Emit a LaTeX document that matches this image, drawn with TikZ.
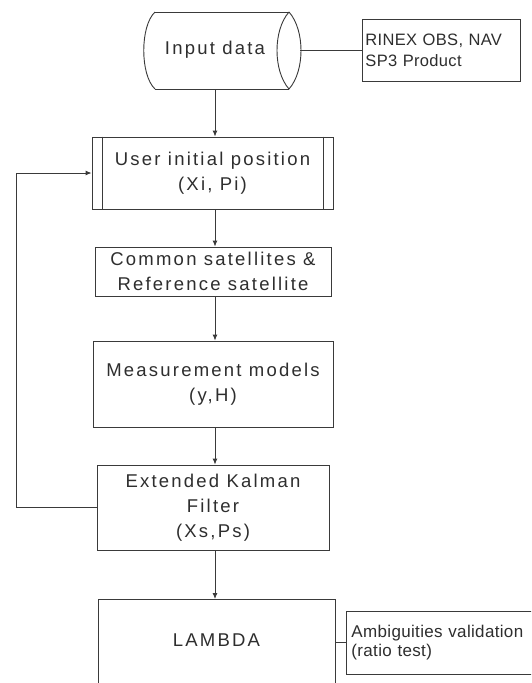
\documentclass[tikz,border=0pt]{standalone}
\usepackage{fontspec}
\setmainfont{Liberation Sans}
\newfontfamily\boxfont{Liberation Sans}[LetterSpace=12]
\newfontfamily\notefont{Liberation Sans}[LetterSpace=2]
\usetikzlibrary{arrows.meta}
\definecolor{ink}{HTML}{3A3A3A}
\definecolor{txt}{HTML}{2E2E2E}
\tikzset{
  edge/.style={draw=ink, line width=0.9pt},
  flow/.style={edge, -{Latex[length=6pt,width=5pt]}},
  stepbox/.style={draw=ink, line width=0.9pt, rectangle, inner sep=0pt,
    align=center, text=txt, font={\boxfont\fontsize{18.5}{25}\selectfont}},
  notebox/.style={draw=ink, line width=0.9pt, rectangle, inner xsep=3pt, inner ysep=0pt,
    align=left, text=txt, anchor=west},
  boxtext/.style={text=txt, font={\boxfont\fontsize{18.5}{25}\selectfont}, inner sep=0pt}
}
\begin{document}
\begin{tikzpicture}[x=1pt,y=-1pt]
\useasboundingbox (0,0) rectangle (531,683);
\clip (0,0) rectangle (531,683);
\fill[white] (0,0) rectangle (531,683);

% spine of the vertical flow
\coordinate (spine) at (215,0);

% input data: horizontal cylinder
\draw[edge] (155,12) -- (289,12);
\draw[edge] (155,89) -- (289,89);
\draw[edge] (155,12) .. controls (140,26) and (140,75) .. (155,89);
\draw[edge] (289,12) .. controls (273,30) and (273,71) .. (289,89)
                     .. controls (305,71) and (305,30) .. (289,12);
\coordinate (inpE) at (300,50);
\coordinate (inpS) at (215,89);
\node[boxtext] (inp) at (215,50) {Input data};

\node[notebox, minimum width=158pt, minimum height=62pt, text width=152pt,
      font={\notefont\fontsize{16.5}{21}\selectfont}]
  (rinex) at (362,50) {RINEX OBS, NAV\\SP3 Product};

% processing steps
\node[stepbox, minimum width=241pt, minimum height=72pt] (user) at (212.5,173)
  {User initial position\\(Xi, Pi)};
\draw[edge] ([xshift=11pt]user.north west) -- ([xshift=11pt]user.south west);
\draw[edge] ([xshift=-10pt]user.north east) -- ([xshift=-10pt]user.south east);

\node[stepbox, minimum width=236pt, minimum height=49pt] (common) at (213,271.5)
  {Common satellites \&\\Reference satellite};

\node[stepbox, minimum width=240pt, minimum height=86pt] (meas) at (213,384)
  {Measurement models\\(y,H)};

\node[stepbox, minimum width=232pt, minimum height=85pt] (ekf) at (213,507.5)
  {Extended Kalman\\Filter\\(Xs,Ps)};

\node[stepbox, minimum width=237pt, minimum height=95pt, anchor=north] (lam) at (216.5,599) {};
\node[boxtext] (lamtext) at (216.5,640) {LAMBDA};

\node[notebox, minimum width=220pt, minimum height=63pt, text width=210pt,
      font={\notefont\fontsize{17}{18.5}\selectfont}]
  (amb) at (346,642.5) {Ambiguities validation\\(ratio test)};

% connectors
\draw[edge] (inpE) -- (rinex.west);
\draw[flow] (inpS) -- (user.north -| spine);
\draw[flow] (user.south -| spine) -- (common.north -| spine);
\draw[flow] (common.south -| spine) -- (meas.north -| spine);
\draw[flow] (meas.south -| spine) -- (ekf.north -| spine);
\draw[flow] (ekf.south -| spine) -- (lam.north -| spine);
\draw[edge] (lam.east |- amb.west) -- (amb.west);
\coordinate (loop) at (16,0);
\draw[flow] (ekf.west) -- (ekf.west -| loop) -- (user.west -| loop) -- (user.west);
\end{tikzpicture}
\end{document}
